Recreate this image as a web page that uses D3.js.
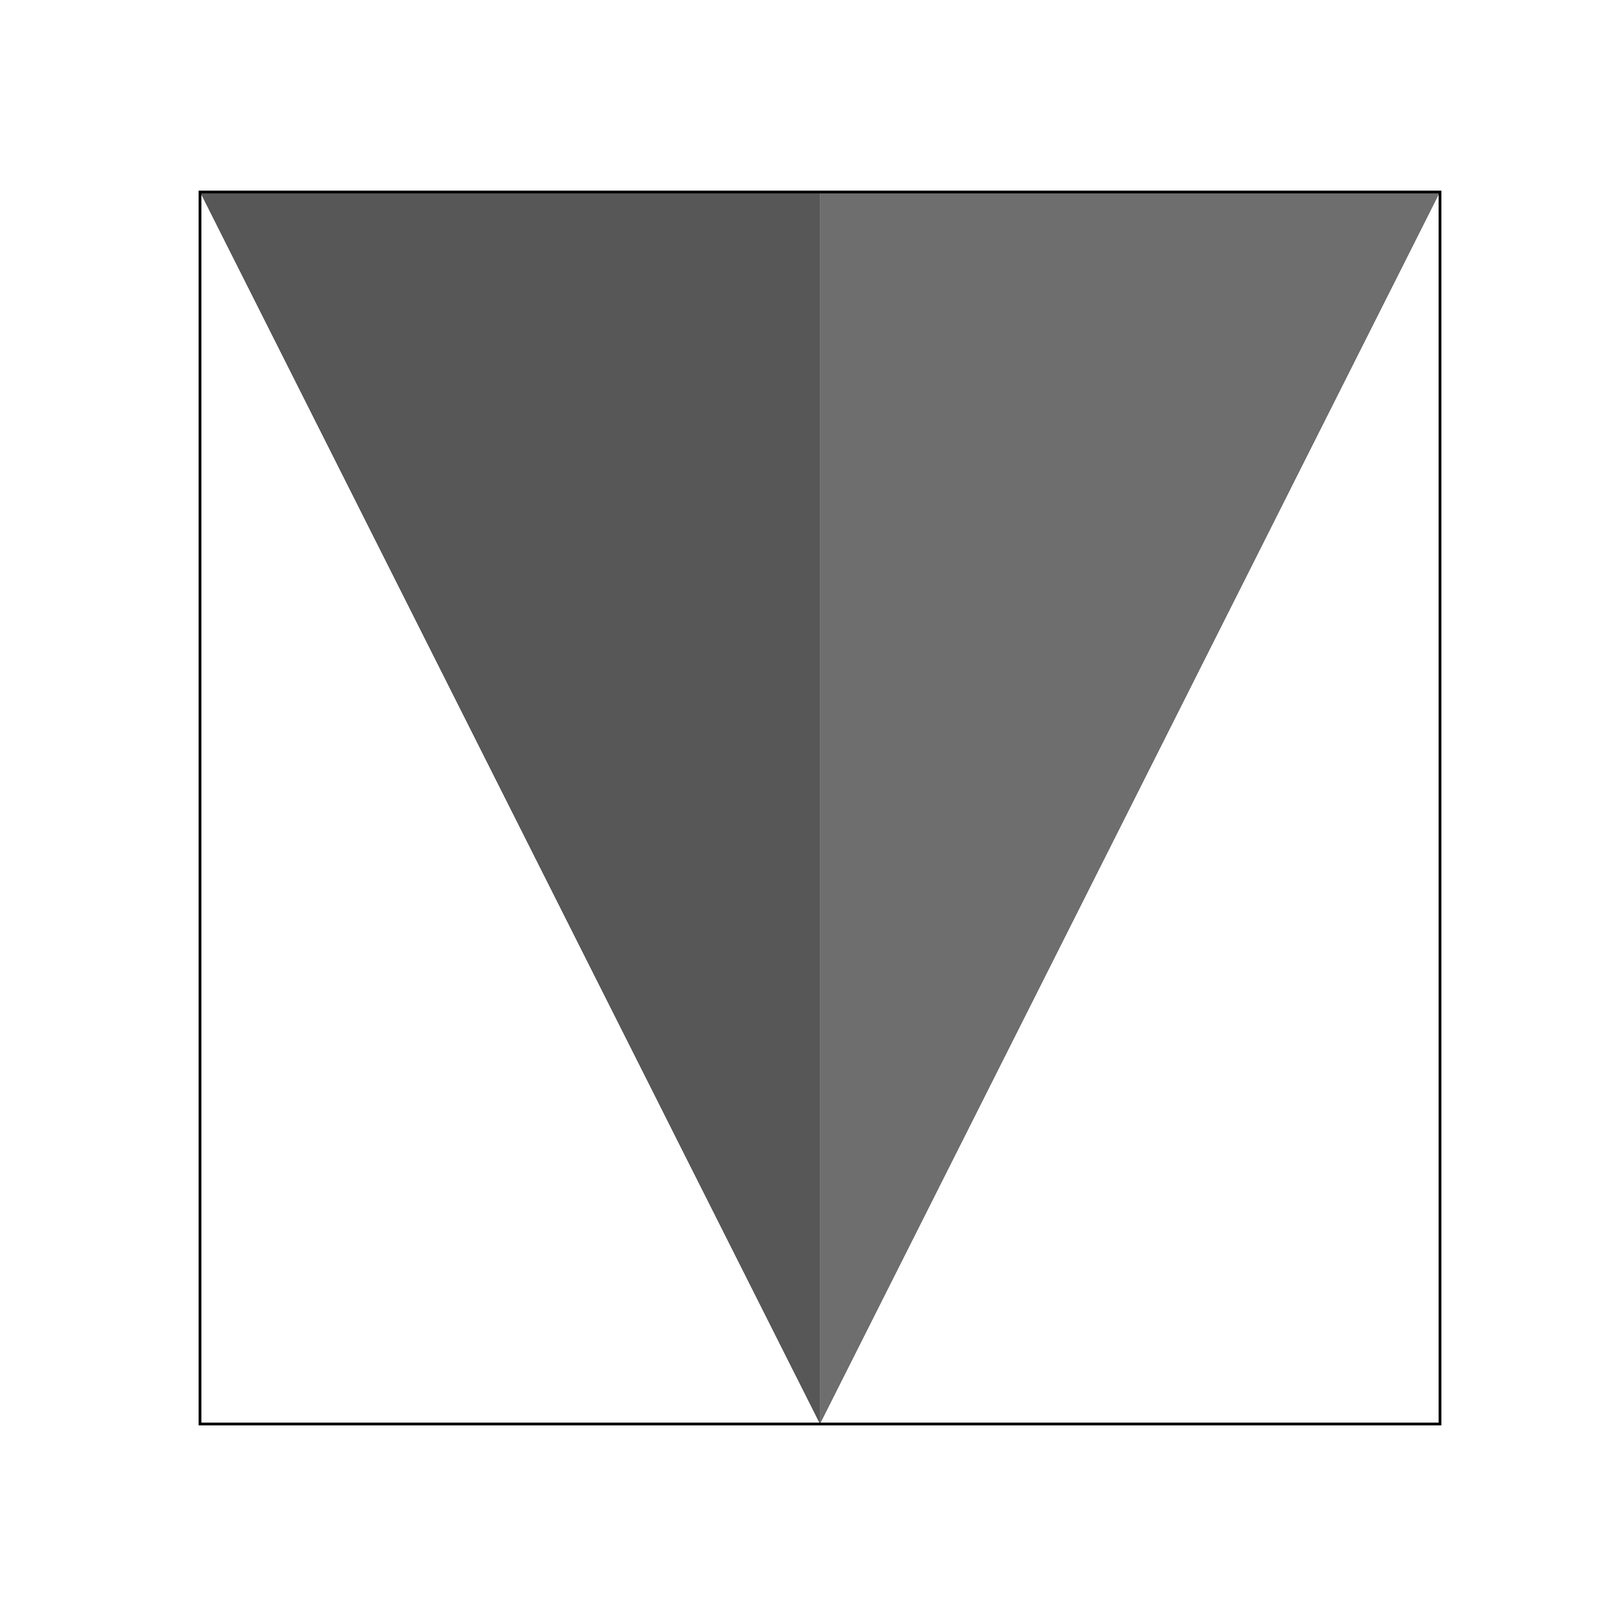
<!DOCTYPE html>
<html>
<head>
<meta charset="utf-8">
<script src="https://cdn.jsdelivr.net/npm/d3@7"></script>
<style>
  html, body { margin: 0; padding: 0; background: #fff; overflow: hidden; }
  svg { display: block; }
</style>
</head>
<body>
<div id="chart"></div>
<script>
// V-shaped filled region, split at x = 0
const leftX = [-1, 0];
const leftY = [1, 0];
const rightX = [0, 1];
const rightY = [0, 1];
const topY = 1;

// figure fills the window; axes box as fractions of the figure
const width = window.innerWidth || 5760;
const height = window.innerHeight || 4320;
const margin = {
  left: 0.125 * width,
  right: 0.1 * width,
  top: 0.12 * height,
  bottom: 0.11 * height,
};
const lw = 10 * Math.min(width / 5760, height / 4320);

const svg = d3.select("#chart")
  .append("svg")
  .attr("width", width)
  .attr("height", height)
  .attr("viewBox", [0, 0, width, height]);

const x = d3.scaleLinear()
  .domain([-1, 1])
  .range([margin.left, width - margin.right]);

const y = d3.scaleLinear()
  .domain([0, 1])
  .range([height - margin.bottom, margin.top]);

const area = d3.area()
  .x((d) => x(d.x))
  .y0(y(topY))
  .y1((d) => y(d.y));

const halves = [
  { pts: leftX.map((v, i) => ({ x: v, y: leftY[i] })), fill: "#575757" },
  { pts: rightX.map((v, i) => ({ x: v, y: rightY[i] })), fill: "#6e6e6e" },
];

svg.append("g")
  .selectAll("path")
  .data(halves)
  .join("path")
  .attr("d", (d) => area(d.pts))
  .attr("fill", (d) => d.fill)
  .attr("stroke", "none");

// axes frame (no ticks)
svg.append("rect")
  .attr("x", x(-1))
  .attr("y", y(1))
  .attr("width", x(1) - x(-1))
  .attr("height", y(0) - y(1))
  .attr("fill", "none")
  .attr("stroke", "#000")
  .attr("stroke-width", lw);
</script>
</body>
</html>
